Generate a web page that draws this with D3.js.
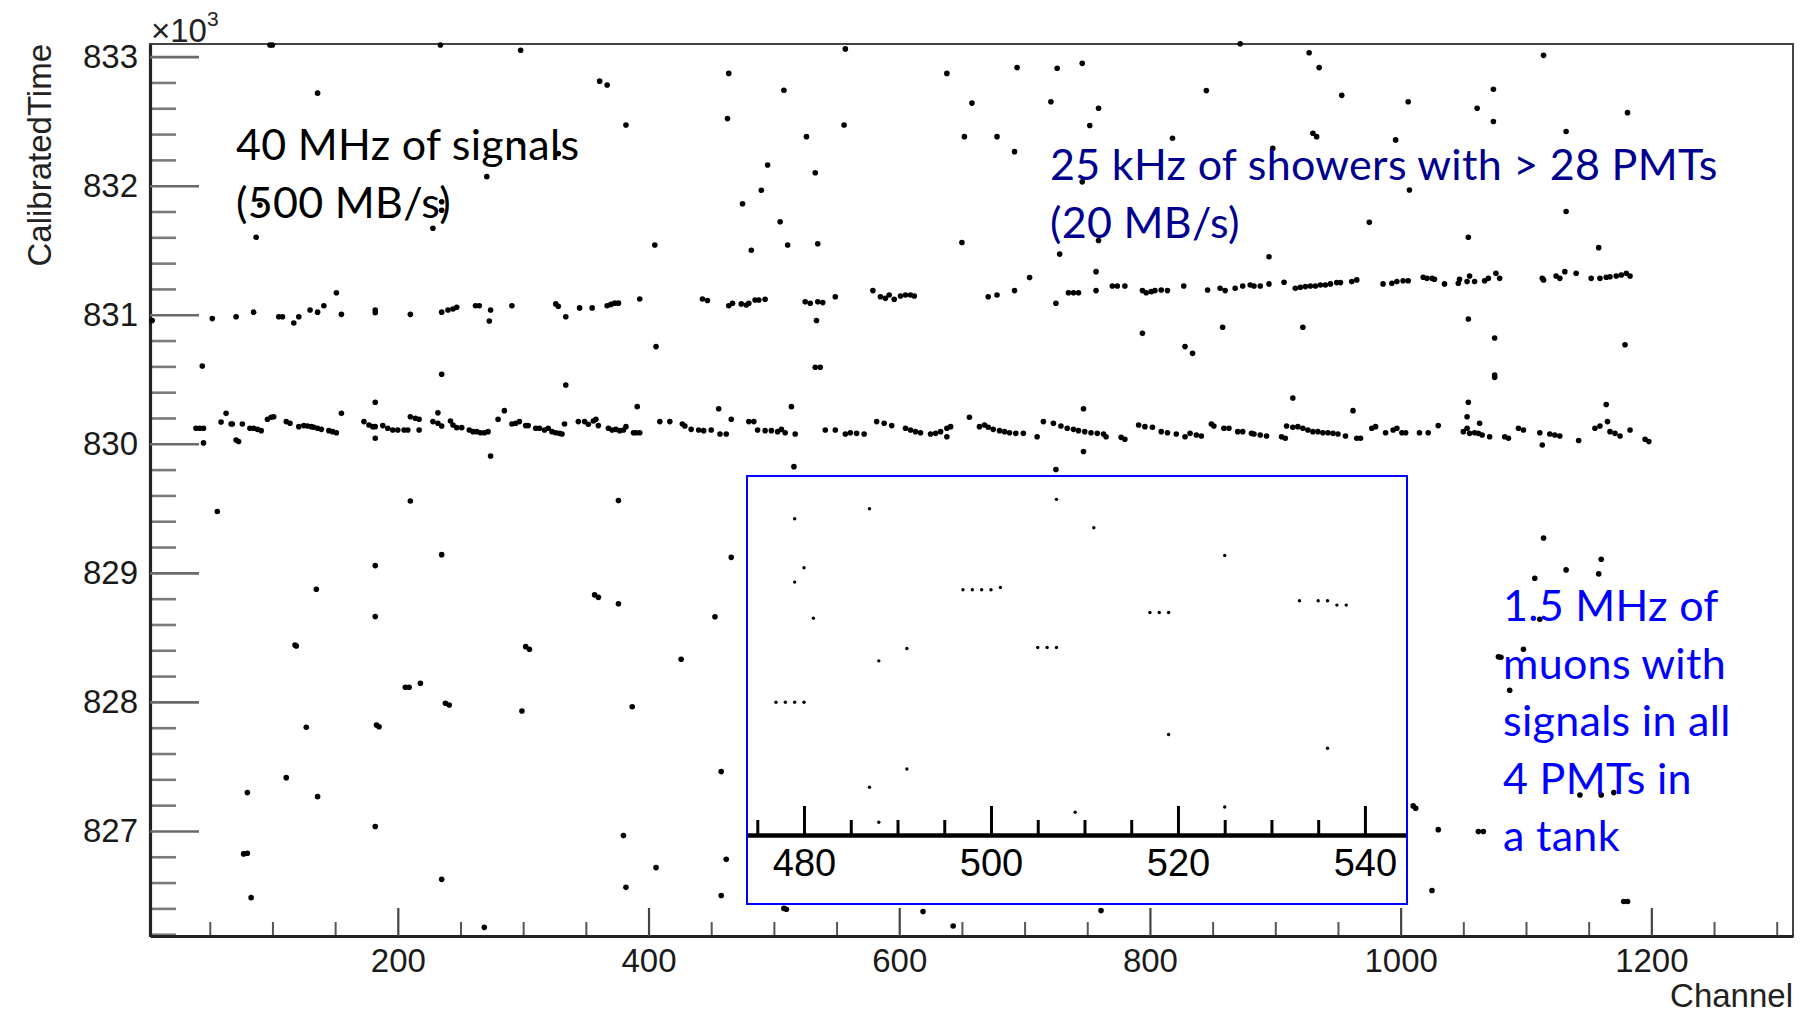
<!DOCTYPE html>
<html><head><meta charset="utf-8">
<script src="https://cdn.jsdelivr.net/npm/d3@7"></script>
<style>body{margin:0;background:#fff}svg{display:block}</style>
</head><body><svg id="c" width="1808" height="1015"></svg>
<script>
// ---- data: [channel, CalibratedTime (x10^3)] ----
const upperBand = [[4,830.955],[52,830.97],[71,830.985],[85,831.02],[105,830.985],[108,830.985],[117,830.936],[121,830.985],[130,831.037],[136,831.02],[141,831.07],[151,831.17],[155,831.003],[182,831.037],[182,831.016],[210,831.003],[235,831.02],[240,831.037],[244,831.045],[247,831.058],[262,831.07],[265,831.07],[274,831.037],[273,830.952],[291,831.07],[326,831.084],[328,831.066],[334,830.985],[345,831.053],[355,831.053],[367,831.07],[370,831.08],[373,831.09],[376,831.09],[393,831.122],[443,831.122],[447,831.11],
[464,831.07],[467,831.089],[474,831.084],[478,831.076],[480,831.089],[485,831.114],[488,831.114],[493,831.12],[525,831.1],[529,831.089],[535,831.1],[539,831.094],[549,831.14],[534,830.955],[579,831.187],[585,831.14],[589,831.127],[592,831.153],[596,831.12],[601,831.145],[605,831.153],[609,831.153],[612,831.145],[671,831.14],[678,831.153],[692,831.187],[704,831.288],[725,831.089],[735,831.171],[739,831.171],[743,831.171],[757,831.334],[757,831.187],[770,831.223],[774,831.223],[780,831.223],[794,831.187],[797,831.171],[801,831.179],[804,831.187],[809,831.192],[814,831.187],[827,831.223],[846,831.192],[856,831.205],[860,831.187],[868,831.205],[874,831.223],[880,831.23],
[883,831.223],[888,831.223],[895,831.239],[907,831.252],[916,831.205],[920,831.213],[924,831.218],[928,831.223],[932,831.223],[936,831.23],[940,831.23],[944,831.239],[949,831.249],[952,831.249],[961,831.257],[965,831.27],[986,831.239],[993,831.244],[997,831.257],[1002,831.264],[1006,831.264],[1018,831.29],[1021,831.282],[1025,831.282],[1027,831.275],[1035,831.239],[1046,831.244],[1047,831.275],[1053,831.257],[1055,831.3],[1059,831.257],[1067,831.264],[1070,831.282],[1076,831.321],[1079,831.282],[1113,831.282],[1114,831.27],[1124,831.3],[1127,831.282],[1131,831.334],[1140,831.321],[1152,831.282],[1159,831.282],[1164,831.29],[1167,831.295],[1172,831.3],[1176,831.308],[1180,831.321],[1183,831.3]];

const lowerBand = [[39,830.12],[42,830.12],[45,830.12],[59,830.169],[63,830.236],[67,830.154],[68,830.154],[71,830.03],[73,830.017],[76,830.154],[82,830.12],[85,830.12],[88,830.112],[91,830.102],[96,830.19],[99,830.206],[101,830.21],[111,830.172],[114,830.159],[121,830.133],[125,830.141],[128,830.138],[131,830.133],[133,830.128],[136,830.12],[139,830.112],[145,830.102],[148,830.094],[151,830.086],[155,830.236],[173,830.172],[177,830.146],[180,830.133],[182,830.133],[182,830.043],[188,830.141],[192,830.12],[196,830.107],[200,830.107],[205,830.107],[208,830.107],[210,830.21],[214,830.198],[217,830.19],[217,830.107],[228,830.172],[232,830.159],[235,830.138],[232,830.24],[242,830.177],[244,830.146],[247,830.125],[251,830.125],[257,830.107],[260,830.094],[263,830.094],[266,830.086],[269,830.086],[272,830.094],[280,830.19],[285,830.257],[291,830.154],[294,830.159],[297,830.172],[302,830.141],[304,830.141],[310,830.12],[313,830.12],[317,830.107],[320,830.12],[323,830.094],[326,830.086],[329,830.081],[331,830.076],[333,830.154],[344,830.172],[349,830.172],[352,830.151],[356,830.177],[358,830.19],[360,830.141],[368,830.12],[371,830.107],[374,830.112],[377,830.102],[380,830.107],[382,830.133],[388,830.086],[390,830.086],[393,830.086],[409,830.172],[417,830.172],[427,830.154],[429,830.138],[434,830.112],[440,830.107],
[444,830.102],[450,830.107],[457,830.076],[462,830.076],[456,830.272],[466,830.19],[480,830.172],[484,830.172],[487,830.107],[493,830.102],[498,830.102],[503,830.094],[506,830.112],[509,830.086],[514,830.288],[517,830.076],[541,830.107],[549,830.107],[557,830.076],[561,830.086],[566,830.081],[572,830.076],[582,830.172],[588,830.159],[594,830.141],[605,830.12],[609,830.107],[613,830.094],[617,830.086],[625,830.076],[629,830.081],[633,830.094],[638,830.12],[641,830.133],[638,830.055],[656,830.206],[664,830.133],[668,830.146],[671,830.128],[675,830.112],[680,830.102],[684,830.094],[688,830.086],[693,830.081],[699,830.081],[710,830.055],[715,830.172],[723,830.159],[729,830.138],[734,830.12],[739,830.112],[743,830.102],[748,830.094],[753,830.086],[758,830.081],[763,830.076],[765,830.055],[747,830.272],[777,830.05],[780,830.035],[791,830.146],[796,830.133],[802,830.128],[809,830.094],[814,830.086],[821,830.076],[828,830.055],[832,830.081],[837,830.068],[841,830.06],[849,830.154],[851,830.138],[859,830.12],[863,830.12],[870,830.094],[874,830.094],[881,830.081],
[883,830.076],[888,830.068],[893,830.06],[905,830.055],[908,830.043],[909,830.138],[914,830.128],[918,830.133],[922,830.12],[926,830.107],[930,830.094],[934,830.094],[938,830.086],[942,830.086],[946,830.081],[950,830.076],[956,830.06],[965,830.043],[968,830.043],[977,830.12],[980,830.133],[988,830.086],[994,830.107],[997,830.12],[1001,830.086],[1004,830.086],[1015,830.086],[1022,830.086],[1030,830.141],[1050,830.094],[1053,830.12],[1055,830.081],[1059,830.086],[1062,830.081],[1065,830.068],[1063,830.159],[1053,830.21],[1071,830.055],[1083,830.055],[1086,830.043],[1094,830.12],[1098,830.107],[1111,830.086],[1113,829.991],[1119,830.076],[1123,830.068],[1127,830.06],[1142,830.025],[1155,830.12],[1159,830.138],[1165,830.172],[1167,830.094],[1171,830.081],[1175,830.06],[1183,830.107],[1195,830.035],[1198,830.017]];

const scatterAbove = [[98,833.09],[100,833.09],[234,833.09],[298,833.05],[136,832.717],[361,832.81],[367,832.78],[271,832.07],[328,832.25],[298,832.34],[235,831.876],[235,831.81],[87,831.6],[90,831.85],[228,831.67],
[382,832.47],[405,831.54],[464,832.87],[463,832.52],[475,831.86],[482,831.5],[490,831.965],[495,832.16],[508,832.74],[505,831.72],[511,831.54],[526,832.38],[533,832.1],[535,831.55],[557,833.06],[556,832.47],[638,832.87],[658,832.64],[652,832.38],[650,831.56],[678,832.38],
[694,832.915],[726,832.91],[746,832.948],[721,832.65],[759,832.6],[752,832.466],[692,832.264],[818,832.368],[845,832.737],[872,833.1],[927,833.03],[935,832.915],[953,832.7],[930,832.406],[933,832.38],[898,832.29],[996,832.355],[1006,832.65],[1061,832.6],[1074,832.747],[1074,832.497],[1114,833.01],[1132,832.42],[1181,832.566],[1007,831.967],[1132,831.8],[975,831.716],[1054,831.6],[1158,831.52],[895,831.45],[728,831.47],[759,831.575],[746,832.03]];

const scatterBetween = [[44,830.603],[235,830.539],[334,830.456],[406,830.753],[45,830.007],[182,830.322],[391,830.288],[533,830.593],[537,830.593],[794,830.856],[858,830.903],[828,830.753],[834,830.701],[922,830.903],[1054,830.967],[1075,830.82],[1075,830.533],[1075,830.515],[1179,830.768],[914,830.355],[962,830.257],[1054,830.322],[1164,830.304]];

const scatterBelow = [[274,829.906],[516,829.823],[747,829.94],[725,829.8],
[56,829.475],[210,829.557],[235,829.141],[182,829.056],[135,828.873],[182,828.661],[118,828.441],[119,828.433],[302,828.428],[305,828.408],[357,828.829],[360,828.81],[206,828.113],[209,828.113],[218,828.144],[238,827.989],[241,827.976],[426,828.33],[127,827.803],[183,827.821],[185,827.808],[299,827.93],[387,827.963],[111,827.413],[80,827.297],[136,827.266],[182,827.034],[77,826.822],[80,826.827],[235,826.625],[83,826.483],[269,826.253],[380,826.964],[406,826.716],[382,826.563],
[376,829.56],[376,828.76],[453,828.66],[466,829.12],[458,827.46],[462,826.78],[458,826.5],[508,826.4],[510,826.393],[619,826.375],[643,826.264],[761,826.383],
[1010,827.194],[1012,827.176],[1030,827.01],[1025,826.538],[1062,826.995],[1066,826.995],[1078,828.35],[1080,828.346],[1087,828.09],[1178,826.453],[1181,826.453],[1107,828.958],[1132,829.023],[1160,829.105],[1158,828.992],[1111,828.64],[1098,828.408],[1143,827.279],[1160,827.279],[1170,827.297],[1114,829.27]];

// inset: [channel, time offset (arb. units)]
const insetPoints = [[479,948],[487,978],[507,1006],[511,921],[480,801],[479,758],[481,650],[525,838],[497,735],[498,735],[499,735],[500,735],[501,742],[517,667],[518,667],[519,667],[533,702],[535,702],[536,702],[537,689],[538,689],[491,559],[488,522],[505,562],[506,562],[507,562],[477,398],[478,398],[479,398],[480,398],[519,301],[536,260],[491,198],[487,143],[509,68],[525,84],[488,38]];

const yMajorTicks = [827,828,829,830,831,832,833];
const xMajorTicks = [200,400,600,800,1000,1200];
const insetMajorTicks = [480,500,520,540];
const yTitle = "CalibratedTime", xTitle = "Channel";
const noteSignals = ["40 MHz of signals","(500 MB/s)"];
const noteShowers = ["25 kHz of showers with > 28 PMTs","(20 MB/s)"];
const noteMuons = ["1.5 MHz of","muons with","signals in all","4 PMTs in","a tank"];

// ---- drawing ----
const svg = d3.select('#c');
const L=150,R=1793,T=44,B=936;
const x = d3.scaleLinear().domain([2.31,1313.0]).range([L,R]);
const y = d3.scaleLinear().domain([826.186,833.098]).range([B,T]);

// frame
svg.append('rect').attr('x',L).attr('y',T).attr('width',R-L).attr('height',B-T)
  .attr('fill','none').attr('stroke','#444').attr('stroke-width',2);

const font = '"Liberation Sans", Arial, Helvetica, sans-serif';

// y axis minor
const yMinor = d3.range(826.2,833.05,0.2).map(v=>+v.toFixed(1)).filter(v=>Math.abs(v-Math.round(v))>0.05);
const gyMin = svg.append('g').attr('transform',`translate(${L},0)`)
  .call(d3.axisLeft(y).tickValues(yMinor).tickSize(-26).tickSizeOuter(0).tickFormat(''));
gyMin.select('.domain').remove();
gyMin.selectAll('line').attr('stroke','#7a7a7a').attr('stroke-width',2.6);
const gy = svg.append('g').attr('transform',`translate(${L},0)`)
  .call(d3.axisLeft(y).tickValues(yMajorTicks).tickSize(-49).tickSizeOuter(0).tickPadding(12).tickFormat(d3.format('d')));
gy.select('.domain').attr('stroke','#222').attr('stroke-width',3.2);
gy.selectAll('line').attr('stroke','#6a6a6a').attr('stroke-width',2.6);
gy.selectAll('text').attr('font-family',font).attr('font-size',33).attr('fill','#1a1a1a');

// x axis
const xMinor = d3.range(50,1313,50).filter(v=>v%200!==0);
const gxMin = svg.append('g').attr('transform',`translate(0,${B})`)
  .call(d3.axisBottom(x).tickValues(xMinor).tickSize(-14).tickSizeOuter(0).tickFormat(''));
gxMin.select('.domain').remove();
gxMin.selectAll('line').attr('stroke','#555').attr('stroke-width',2);
const gx = svg.append('g').attr('transform',`translate(0,${B})`)
  .call(d3.axisBottom(x).tickValues(xMajorTicks).tickSize(-28).tickSizeOuter(0).tickPadding(13).tickFormat(d3.format('d')));
gx.select('.domain').attr('stroke','#222').attr('stroke-width',3.2);
gx.selectAll('line').attr('stroke','#444').attr('stroke-width',2.2);
gx.selectAll('text').attr('font-family',font).attr('font-size',33).attr('fill','#1a1a1a');

// x10^3
const ex = svg.append('text').attr('x',151).attr('y',42).attr('font-family',font).attr('font-size',33).attr('fill','#222');
ex.append('tspan').text('\u00d710');
ex.append('tspan').attr('font-size',21).attr('dy',-16).text('3');

// titles
svg.append('text').attr('transform',`translate(51,${T}) rotate(-90)`).attr('text-anchor','end')
  .attr('font-family',font).attr('font-size',33).attr('fill','#222').text(yTitle);
svg.append('text').attr('x',R).attr('y',1007).attr('text-anchor','end')
  .attr('font-family',font).attr('font-size',33).attr('fill','#222').text(xTitle);

// points
const allMain = [].concat(upperBand, lowerBand, scatterAbove, scatterBetween, scatterBelow);
svg.append('g').selectAll('circle').data(allMain).join('circle')
  .attr('cx',d=>x(d[0])).attr('cy',d=>y(d[1])).attr('r',2.8).attr('fill','#000');

// inset
const IL=747, IR=1407, IT=476, IB=904, IA=835;
const xi = d3.scaleLinear().domain([473.9,544.5]).range([IL,IR]);
const yi = d3.scaleLinear().domain([0,1076]).range([IA,IT]);
const ins = svg.append('g');
ins.append('rect').attr('x',IL).attr('y',IT).attr('width',IR-IL).attr('height',IB-IT).attr('fill','#fff');
ins.selectAll('circle').data(insetPoints).join('circle')
  .attr('cx',d=>xi(d[0])).attr('cy',d=>yi(d[1])).attr('r',1.7).attr('fill','#000');
const insMinor = d3.range(475,545,5).filter(v=>v%20!==0);
const giMin = ins.append('g').attr('transform',`translate(0,${IA})`)
  .call(d3.axisBottom(xi).tickValues(insMinor).tickSize(-15).tickSizeOuter(0).tickFormat(''));
giMin.select('.domain').remove();
giMin.selectAll('line').attr('stroke','#000').attr('stroke-width',3);
const gi = ins.append('g').attr('transform',`translate(0,${IA})`)
  .call(d3.axisBottom(xi).tickValues(insetMajorTicks).tickSize(-29).tickSizeOuter(0).tickPadding(14).tickFormat(d3.format('d')));
gi.select('.domain').attr('stroke','#000').attr('stroke-width',4.5);
gi.selectAll('line').attr('stroke','#000').attr('stroke-width',3);
gi.selectAll('text').attr('font-family',font).attr('font-size',38).attr('fill','#000');
ins.append('rect').attr('x',IL).attr('y',IT).attr('width',IR-IL).attr('height',IB-IT)
  .attr('fill','none').attr('stroke','#0000ff').attr('stroke-width',2);

// annotations
const nfont = 'Lato, "Open Sans", sans-serif';
function note(lines, x0, y0, color){
  svg.append('g').selectAll('text').data(lines).join('text')
    .attr('x',x0).attr('y',(d,i)=>y0+i*57.5)
    .attr('font-family',nfont).attr('font-size',43).attr('letter-spacing',0.3).attr('fill',color).text(d=>d);
}
note(noteSignals, 236, 160, '#000');
note(noteShowers, 1050, 180, '#00008f');
note(noteMuons, 1503, 621, '#0000ff');
</script></body></html>
